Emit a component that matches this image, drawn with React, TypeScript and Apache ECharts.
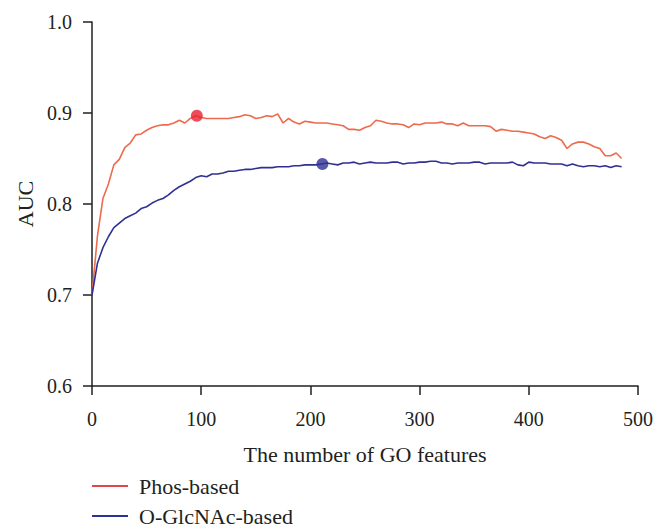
import React, { useEffect, useRef } from "react";
import * as echarts from "echarts";

const featureCounts = [
  0, 5, 10, 15, 20, 25, 30, 35, 40, 45, 50, 55, 60, 65, 70, 75, 80, 85, 90, 95,
  100, 105, 110, 115, 120, 125, 130, 135, 140, 145, 150, 155, 160, 165, 170, 175, 180, 185, 190, 195,
  200, 205, 210, 215, 220, 225, 230, 235, 240, 245, 250, 255, 260, 265, 270, 275, 280, 285, 290, 295,
  300, 305, 310, 315, 320, 325, 330, 335, 340, 345, 350, 355, 360, 365, 370, 375, 380, 385, 390, 395,
  400, 405, 410, 415, 420, 425, 430, 435, 440, 445, 450, 455, 460, 465, 470, 475, 480, 485,
];

const phosAUC = [
  0.700, 0.765, 0.806, 0.822, 0.843, 0.849, 0.862, 0.867, 0.876, 0.877, 0.881, 0.884, 0.886, 0.887, 0.887, 0.889, 0.892, 0.889, 0.894, 0.897,
  0.895, 0.894, 0.894, 0.894, 0.894, 0.894, 0.895, 0.896, 0.898, 0.897, 0.894, 0.895, 0.897, 0.896, 0.899, 0.889, 0.894, 0.890, 0.888, 0.891,
  0.890, 0.889, 0.889, 0.889, 0.888, 0.887, 0.886, 0.882, 0.882, 0.881, 0.884, 0.886, 0.892, 0.891, 0.889, 0.888, 0.888, 0.887, 0.884, 0.888,
  0.887, 0.889, 0.889, 0.889, 0.890, 0.888, 0.888, 0.886, 0.889, 0.886, 0.886, 0.886, 0.886, 0.885, 0.880, 0.882, 0.881, 0.880, 0.880, 0.879,
  0.878, 0.877, 0.874, 0.872, 0.875, 0.873, 0.870, 0.861, 0.866, 0.868, 0.868, 0.866, 0.863, 0.861, 0.853, 0.853, 0.856, 0.850,
];

const glcnacAUC = [
  0.700, 0.735, 0.752, 0.764, 0.774, 0.779, 0.784, 0.787, 0.790, 0.795, 0.797, 0.801, 0.804, 0.806, 0.810, 0.815, 0.819, 0.822, 0.825, 0.829,
  0.831, 0.830, 0.833, 0.833, 0.834, 0.836, 0.836, 0.837, 0.838, 0.838, 0.839, 0.840, 0.840, 0.840, 0.841, 0.841, 0.841, 0.842, 0.842, 0.843,
  0.843, 0.843, 0.844, 0.845, 0.844, 0.843, 0.845, 0.845, 0.846, 0.844, 0.845, 0.846, 0.845, 0.845, 0.845, 0.846, 0.846, 0.844, 0.845, 0.845,
  0.846, 0.846, 0.847, 0.847, 0.845, 0.845, 0.844, 0.845, 0.845, 0.845, 0.846, 0.846, 0.844, 0.845, 0.845, 0.845, 0.845, 0.846, 0.843, 0.842,
  0.846, 0.845, 0.845, 0.845, 0.844, 0.844, 0.844, 0.842, 0.844, 0.842, 0.841, 0.842, 0.842, 0.841, 0.842, 0.840, 0.842, 0.841,
];

const phosBest = [96, 0.897];
const glcnacBest = [211, 0.844];

const seriesNames = ["Phos-based", "O-GlcNAc-based"];
const xTicks = { min: 0, max: 500, interval: 100 };
const yTicks = { min: 0.6, max: 1.0, interval: 0.1 };

const FONT = "Liberation Serif";
const INK = "#231f20";
const RED_LINE = "#ee6a4c";
const RED_LEGEND = "#e0474c";
const RED_DOT = "#e8202f";
const BLUE = "#2e3192";

export default function App() {
  const ref = useRef<HTMLDivElement>(null);

  useEffect(() => {
    if (!ref.current) return;
    const chart = echarts.init(ref.current, undefined, { renderer: "svg" });
    const zip = (ys: number[]) => featureCounts.map((x, i) => [x, ys[i]]);
    chart.setOption({
      animation: false,
      backgroundColor: "#ffffff",
      textStyle: { fontFamily: FONT, color: INK },
      grid: { left: 92, right: 23, top: 22, bottom: 144, containLabel: false },
      legend: {
        orient: "vertical",
        left: 92,
        top: 475,
        height: 120,
        padding: 0,
        itemWidth: 36,
        itemHeight: 2,
        itemGap: 8,
        icon: "rect",
        textStyle: { fontFamily: FONT, fontSize: 22, color: INK, padding: [0, 0, 0, 6] },
        data: [
          { name: seriesNames[0], itemStyle: { color: RED_LEGEND } },
          { name: seriesNames[1], itemStyle: { color: BLUE } },
        ],
      },
      xAxis: {
        type: "value",
        min: xTicks.min,
        max: xTicks.max,
        interval: xTicks.interval,
        name: "The number of GO features",
        nameLocation: "middle",
        nameGap: 57,
        nameTextStyle: { fontFamily: FONT, fontSize: 22, color: INK },
        splitLine: { show: false },
        axisLine: { show: true, lineStyle: { color: INK, width: 1.5 } },
        axisTick: { show: true, length: 9, inside: false, lineStyle: { color: INK, width: 1.5 } },
        axisLabel: { fontFamily: FONT, fontSize: 20, color: INK, margin: 23 },
      },
      yAxis: {
        type: "value",
        min: yTicks.min,
        max: yTicks.max,
        interval: yTicks.interval,
        name: "AUC",
        nameLocation: "middle",
        nameGap: 56,
        nameTextStyle: { fontFamily: FONT, fontSize: 22, color: INK },
        splitLine: { show: false },
        axisLine: { show: true, lineStyle: { color: INK, width: 1.5 } },
        axisTick: { show: true, length: 9, inside: false, lineStyle: { color: INK, width: 1.5 } },
        axisLabel: {
          fontFamily: FONT,
          fontSize: 20,
          color: INK,
          margin: 20,
          formatter: (v: number) => v.toFixed(1),
        },
      },
      series: [
        {
          name: seriesNames[0],
          type: "line",
          data: zip(phosAUC),
          showSymbol: false,
          symbol: "none",
          lineStyle: { color: RED_LINE, width: 1.6 },
          itemStyle: { color: RED_LEGEND },
          z: 3,
        },
        {
          name: seriesNames[1],
          type: "line",
          data: zip(glcnacAUC),
          showSymbol: false,
          symbol: "none",
          lineStyle: { color: BLUE, width: 1.6 },
          itemStyle: { color: BLUE },
          z: 3,
        },
        {
          name: "phosBest",
          type: "scatter",
          data: [phosBest],
          symbol: "circle",
          symbolSize: 12,
          itemStyle: { color: RED_DOT },
          z: 5,
        },
        {
          name: "glcnacBest",
          type: "scatter",
          data: [glcnacBest],
          symbol: "circle",
          symbolSize: 12,
          itemStyle: { color: BLUE },
          z: 5,
        },
      ],
    });
    return () => chart.dispose();
  }, []);

  return (
    <div
      ref={ref}
      style={{ position: "fixed", left: 0, top: 0, width: 661, height: 530, background: "#fff" }}
    />
  );
}
